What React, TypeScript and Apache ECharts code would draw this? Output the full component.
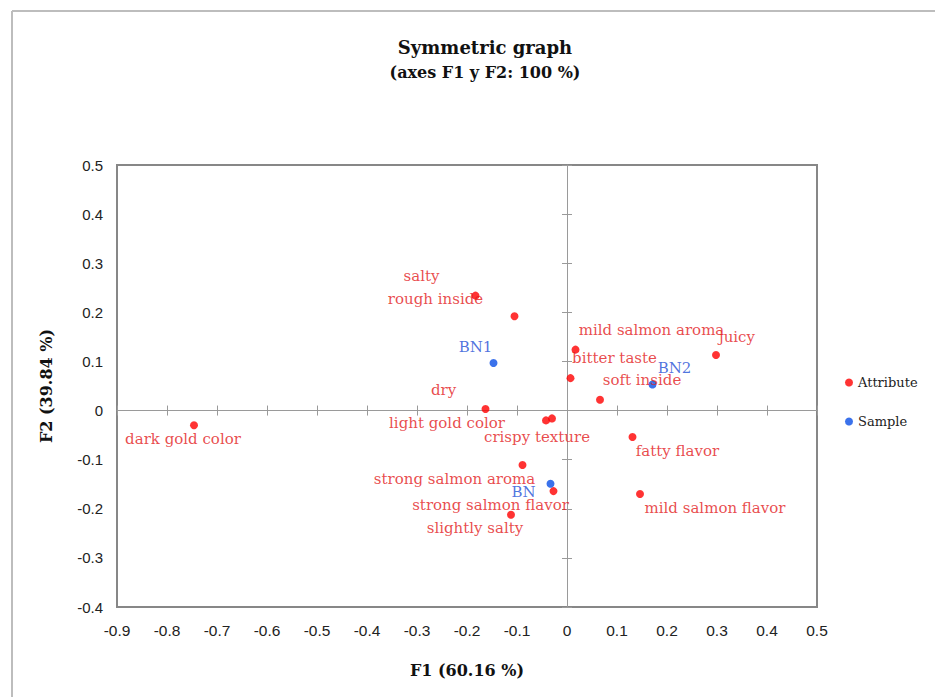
import React, { useEffect, useRef } from "react";
import * as echarts from "echarts";

// ---- data ----
const attributeNames = [
  "salty",
  "rough inside",
  "mild salmon aroma",
  "bitter taste",
  "juicy",
  "soft inside",
  "dry",
  "light gold color",
  "crispy texture",
  "dark gold color",
  "fatty flavor",
  "strong salmon aroma",
  "strong salmon flavor",
  "slightly salty",
  "mild salmon flavor",
];
const attributeF1 = [-0.183, -0.105, 0.017, 0.007, 0.298, 0.066, -0.163, -0.042, -0.03, -0.746, 0.131, -0.089, -0.027, -0.112, 0.146];
const attributeF2 = [0.234, 0.192, 0.124, 0.066, 0.113, 0.022, 0.003, -0.02, -0.016, -0.03, -0.054, -0.111, -0.164, -0.212, -0.17];

const sampleNames = ["BN1", "BN2", "BN"];
const sampleF1 = [-0.147, 0.171, -0.033];
const sampleF2 = [0.097, 0.053, -0.149];

const xTickMin = -0.9;
const xTickMax = 0.5;
const yTickMin = -0.4;
const yTickMax = 0.5;
const tickStep = 0.1;

// ---- layout (label offsets in px, relative to the point) ----
const labelOffsets: Record<string, [number, number]> = {
  salty: [-54, -20],
  "rough inside": [-79, -17],
  "mild salmon aroma": [76, -20],
  "bitter taste": [44, -20],
  juicy: [21, -18],
  "soft inside": [42, -20],
  dry: [-42, -19],
  "light gold color": [-99, 3],
  "crispy texture": [-15, 19],
  "dark gold color": [-11, 14],
  "fatty flavor": [45, 14],
  "strong salmon aroma": [-68, 14],
  "strong salmon flavor": [-63, 14],
  "slightly salty": [-36, 13],
  "mild salmon flavor": [75, 14],
  BN1: [-18, -16],
  BN2: [22, -17],
  BN: [-27, 8],
};

const RED = "#ff0000";
const RED_TEXT = "#e31a1c";
const BLUE = "#0a4fe6";
const BLUE_TEXT = "#1f4fd6";
const SERIF = "'DejaVu Serif', serif";
const SANS = "'Liberation Sans', Arial, sans-serif";

export default function App() {
  const ref = useRef<HTMLDivElement>(null);
  useEffect(() => {
    if (!ref.current) return;
    const chart = echarts.init(ref.current, undefined, { renderer: "svg" });

    const mkData = (names: string[], xs: number[], ys: number[]) =>
      names.map((n, i) => ({
        name: n,
        value: [xs[i], ys[i]],
        label: { offset: labelOffsets[n] || [0, 0] },
      }));

    const baseAxis = (min: number, max: number) => ({
      type: "value" as const,
      min,
      max,
      interval: tickStep,
      splitLine: { show: false },
    });

    const option: any = {
      animation: false,
      backgroundColor: "#ffffff",
      title: {
        text: "Symmetric graph",
        subtext: "(axes F1 y F2: 100 %)",
        left: 480,
        top: 33,
        textAlign: "center",
        itemGap: 8,
        textStyle: { fontFamily: SERIF, fontWeight: "bold", fontSize: 18, color: "#111" },
        subtextStyle: { fontFamily: SERIF, fontWeight: "bold", fontSize: 16, color: "#111" },
      },
      legend: {
        orient: "vertical",
        left: 840,
        top: 371,
        itemWidth: 8,
        itemHeight: 8,
        itemGap: 26,
        icon: "circle",
        data: ["Attribute", "Sample"],
        textStyle: { fontFamily: SERIF, fontSize: 13, color: "#222" },
      },
      grid: {
        left: 117,
        top: 165,
        width: 700,
        height: 442,
        show: true,
        borderColor: "#878787",
        borderWidth: 2,
        backgroundColor: "transparent",
      },
      xAxis: [
        {
          ...baseAxis(xTickMin, xTickMax),
          position: "bottom",
          axisLine: { show: false, onZero: false },
          axisTick: { show: false },
          axisLabel: { fontFamily: SANS, fontSize: 15.5, color: "#222", margin: 15 },
          name: "F1 (60.16 %)",
          nameLocation: "middle",
          nameGap: 55,
          nameTextStyle: { fontFamily: SERIF, fontWeight: "bold", fontSize: 16, color: "#111" },
        },
        {
          ...baseAxis(xTickMin, xTickMax),
          position: "bottom",
          axisLine: { show: true, onZero: true, lineStyle: { color: "#9a9a9a", width: 1 } },
          axisTick: { show: true, inside: true, length: 5, lineStyle: { color: "#9a9a9a" } },
          axisLabel: { show: false },
        },
        {
          ...baseAxis(xTickMin, xTickMax),
          position: "bottom",
          axisLine: { show: false, onZero: true },
          axisTick: { show: true, inside: false, length: 5, lineStyle: { color: "#9a9a9a" } },
          axisLabel: { show: false },
        },
      ],
      yAxis: [
        {
          ...baseAxis(yTickMin, yTickMax),
          position: "left",
          axisLine: { show: false, onZero: false },
          axisTick: { show: false },
          axisLabel: { fontFamily: SANS, fontSize: 15, color: "#222", margin: 14 },
          name: "F2 (39.84 %)",
          nameLocation: "middle",
          nameGap: 63,
          nameTextStyle: { fontFamily: SERIF, fontWeight: "bold", fontSize: 16, color: "#111" },
        },
        {
          ...baseAxis(yTickMin, yTickMax),
          position: "left",
          axisLine: { show: true, onZero: true, lineStyle: { color: "#9a9a9a", width: 1 } },
          axisTick: { show: true, inside: true, length: 5, lineStyle: { color: "#9a9a9a" } },
          axisLabel: { show: false },
        },
        {
          ...baseAxis(yTickMin, yTickMax),
          position: "left",
          axisLine: { show: false, onZero: true },
          axisTick: { show: true, inside: false, length: 5, lineStyle: { color: "#9a9a9a" } },
          axisLabel: { show: false },
        },
      ],
      graphic: [
        { type: "line", shape: { x1: 12, y1: 11, x2: 935, y2: 11 }, style: { stroke: "#bdbdbd", lineWidth: 2 } },
        { type: "line", shape: { x1: 12, y1: 11, x2: 12, y2: 697 }, style: { stroke: "#bdbdbd", lineWidth: 2 } },
      ],
      series: [
        {
          name: "Attribute",
          type: "scatter",
          xAxisIndex: 0,
          yAxisIndex: 0,
          symbolSize: 8,
          itemStyle: { color: RED },
          label: {
            show: true,
            formatter: "{b}",
            position: "inside",
            align: "center",
            verticalAlign: "middle",
            color: RED_TEXT,
            fontFamily: SERIF,
            fontSize: 15,
          },
          data: mkData(attributeNames, attributeF1, attributeF2),
        },
        {
          name: "Sample",
          type: "scatter",
          xAxisIndex: 0,
          yAxisIndex: 0,
          symbolSize: 8,
          itemStyle: { color: BLUE },
          label: {
            show: true,
            formatter: "{b}",
            position: "inside",
            align: "center",
            verticalAlign: "middle",
            color: BLUE_TEXT,
            fontFamily: SERIF,
            fontSize: 15,
          },
          data: mkData(sampleNames, sampleF1, sampleF2),
        },
      ],
    };

    chart.setOption(option);
    return () => chart.dispose();
  }, []);

  return (
    <div
      ref={ref}
      style={{ position: "absolute", left: 0, top: 0, width: 935, height: 697 }}
    />
  );
}
